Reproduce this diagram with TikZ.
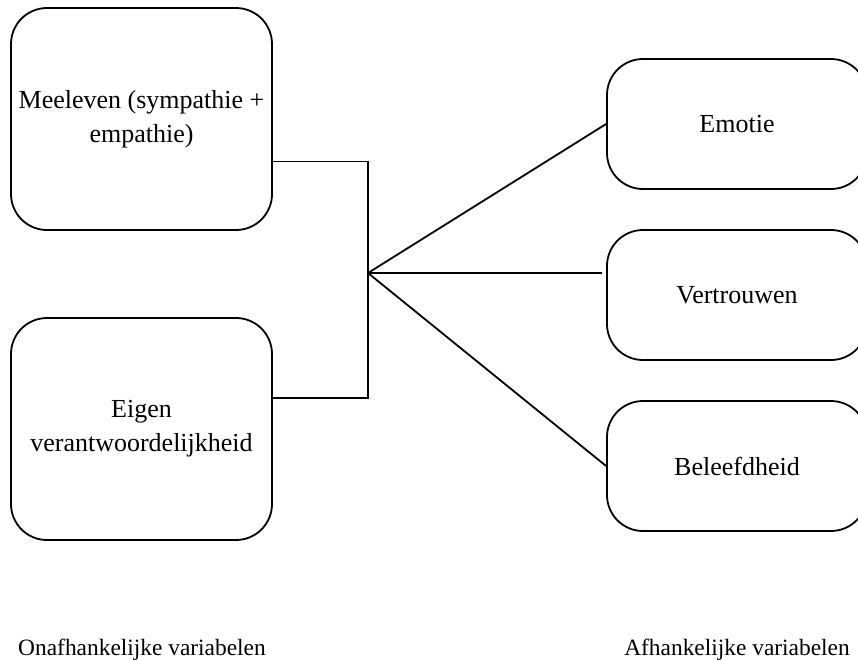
\documentclass[tikz,border=0pt]{standalone}
\usepackage{fontspec}
\setmainfont{Liberation Serif}
\usetikzlibrary{positioning, calc}

\begin{document}
\begin{tikzpicture}[
  x=0.5pt, y=-0.5pt,
  box/.style={draw, line width=0.9pt, rounded corners=18pt, align=center, font=\fontsize{13}{17}\selectfont},
  leftbox/.style={box, minimum width=130.5pt, minimum height=111pt},
  rightbox/.style={box, minimum width=130pt, minimum height=65pt},
  lbl/.style={anchor=base, font=\fontsize{11.7}{14}\selectfont},
  con/.style={line width=0.9pt}
]
\useasboundingbox (0,0) rectangle (858,660);

\node[leftbox] (meeleven) at (141.5,119) {Meeleven (sympathie +\\empathie)};
\node[leftbox] (eigen) at (141.5,429) {Eigen\\verantwoordelijkheid};
\node[rightbox] (emotie) at (737,124) {Emotie};
\node[rightbox] (vertrouwen) at (737,295) {Vertrouwen};
\node[rightbox] (beleefdheid) at (737,466) {Beleefdheid};
\coordinate (hub) at (368,273);

\node[lbl] (onafh) at (142,655) {Onafhankelijke variabelen};
\node[lbl] (afh) at (737,655) {Afhankelijke variabelen};

\draw[con] ($(meeleven.north east)!0.69!(meeleven.south east)$) -| (hub);
\draw[con] ($(eigen.north east)!0.36!(eigen.south east)$) -| (hub);
\draw[con] (hub) -- (emotie.west);
\draw[con, shorten >=2pt] (hub) -- (hub -| vertrouwen.west);
\draw[con] (hub) -- (beleefdheid.west);
\end{tikzpicture}
\end{document}
